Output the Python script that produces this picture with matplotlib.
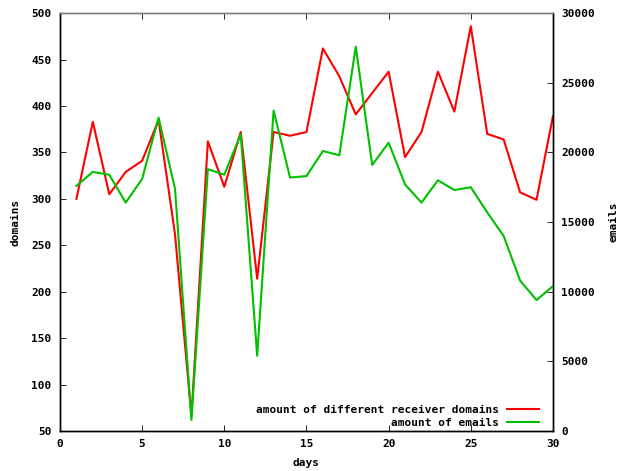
import matplotlib
matplotlib.use("Agg")
import matplotlib.pyplot as plt

# data
days = list(range(1, 31))
domains = [300, 383, 305, 329, 341, 385, 262, 66, 362, 313,
           372, 214, 372, 368, 372, 462, 432, 391, 414, 437,
           345, 372, 437, 394, 486, 370, 364, 307, 299, 389]
emails = [17600, 18600, 18400, 16400, 18100, 22500, 17400, 800, 18800, 18400,
          21300, 5400, 23000, 18200, 18300, 20100, 19800, 27600, 19100, 20700,
          17700, 16400, 18000, 17300, 17500, 15700, 14000, 10800, 9400, 10400]

plt.rcParams['font.family'] = 'DejaVu Sans Mono'
plt.rcParams['font.weight'] = 'bold'
plt.rcParams['font.size'] = 8

fig = plt.figure(figsize=(6.28, 4.71), dpi=100)
ax1 = fig.add_axes([0.0955, 0.085, 0.785, 0.887])

l1, = ax1.plot(days, domains, color='#ff0000', lw=1.5,
               label='amount of different receiver domains')
ax1.set_xlim(0, 30)
ax1.set_ylim(50, 500)
ax1.set_xticks(range(0, 31, 5))
ax1.set_yticks(range(50, 501, 50))
ax1.set_xlabel('days', fontweight='bold', labelpad=6)
ax1.set_ylabel('domains', fontweight='bold', labelpad=8)
ax1.tick_params(direction='in', length=4, top=True, width=0.6, pad=6)

ax2 = ax1.twinx()
l2, = ax2.plot(days, emails, color='#00c000', lw=1.5, label='amount of emails')
ax2.set_ylim(0, 30000)
ax2.set_yticks(range(0, 30001, 5000))
ax2.set_ylabel('emails', fontweight='bold', labelpad=10)
ax2.tick_params(direction='in', length=4, width=0.6, pad=6)

for ax in (ax1, ax2):
    for s in ax.spines.values():
        s.set_linewidth(1.0)
    ax.spines['top'].set_color('#808080')
    for lab in ax.get_xticklabels() + ax.get_yticklabels():
        lab.set_fontweight('bold')

ax2.legend(handles=[l1, l2], loc='lower right', bbox_to_anchor=(0.988, -0.012),
           frameon=False, markerfirst=False, handlelength=2.9, fontsize=8,
           borderaxespad=0.3, labelspacing=0.3, handletextpad=0.7,
           prop={'weight': 'bold', 'family': 'DejaVu Sans Mono', 'size': 8})
leg = ax2.get_legend()
leg._legend_box.align = 'right'

fig.savefig('out.png', dpi=100)
